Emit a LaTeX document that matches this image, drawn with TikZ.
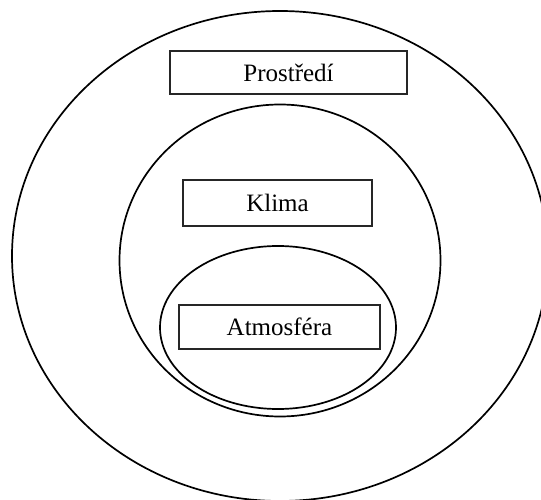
\documentclass[tikz,border=0pt]{standalone}
\usepackage{fontspec}
\setmainfont{Liberation Serif}
\usetikzlibrary{shapes.geometric}

\begin{document}
\begin{tikzpicture}[
    x = 1pt, y = -1pt, % pixel like units
    ring/.style = {draw = black, line width = 1.7pt, ellipse, inner sep = 0pt},
    label box/.style = {draw = black!85, line width = 1.1pt, rectangle,
        inner sep = 0pt, font = \fontsize{25}{30}\selectfont}
    ]
    \useasboundingbox (0,0) rectangle (541,500);

    % nested sets
    \node[ring, minimum width = 536pt, minimum height = 490pt] (prostredi) at (280,256) {};
    \node[ring, minimum width = 321pt, minimum height = 312pt] (klima) at (280,260.5) {};
    \node[ring, minimum width = 236pt, minimum height = 163pt] (atmosfera) at (278,327.5) {};

    % labels
    \node[label box, minimum width = 237pt, minimum height = 43pt] (lprostredi) at (288.5,72.5) {Prostředí};
    \node[label box, minimum width = 189pt, minimum height = 46pt] (lklima) at (277.5,203) {Klima};
    \node[label box, minimum width = 201pt, minimum height = 44pt] (latmosfera) at (279.5,327) {Atmosféra};
\end{tikzpicture}
\end{document}
